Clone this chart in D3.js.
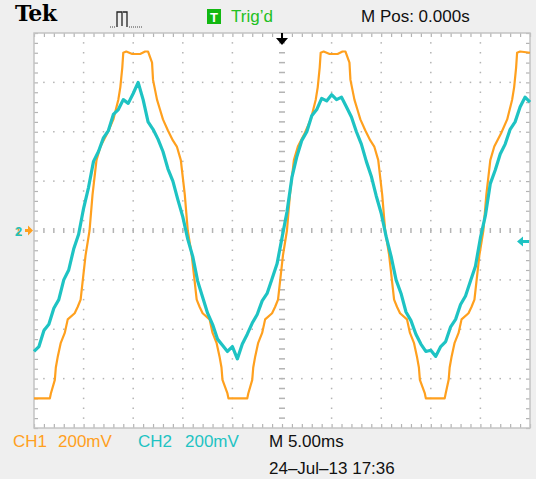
<!DOCTYPE html>
<html>
<head>
<meta charset="utf-8">
<script src="https://cdn.jsdelivr.net/npm/d3@7"></script>
<style>
  body { margin: 0; background: #efefef; }
  svg { display: block; }
  text { font-family: "Liberation Sans", Arial, sans-serif; }
</style>
</head>
<body>
<svg id="scope" width="536" height="479"></svg>
<script>
// time base: 5 ms/div, 10 div; vertical 200 mV/div, 8 div
var timeDomain = [-25, 25];
var voltDomain = [-800, 800];

// CH1 trace, [ms, mV] breakpoints
var ch1 = [
  [-25, -680], [-23.4, -680], [-23.3, -660], [-22.9, -605], [-22.8, -555], [-22.6, -510], [-22.3, -455],
  [-21.9, -415], [-21.6, -360], [-20.9, -335], [-20.6, -310], [-20.3, -280], [-19.8, -100], [-19.4, 0],
  [-19.1, 145], [-18.7, 285], [-18.3, 340], [-17.6, 395], [-17.0, 450], [-16.5, 530], [-16.3, 580],
  [-16.1, 660], [-16.0, 720], [-15.7, 725], [-15.1, 715], [-14.3, 715], [-13.8, 725], [-13.5, 725],
  [-13.1, 680], [-13.0, 610], [-12.6, 530], [-12.3, 490], [-12.0, 450], [-11.5, 405], [-11.0, 365],
  [-10.6, 340], [-10.2, 285], [-9.8, 145], [-9.5, 0], [-9.1, -100], [-8.6, -280], [-8.3, -310],
  [-8.0, -335], [-7.3, -360], [-7.0, -415], [-6.6, -455], [-6.3, -510], [-6.1, -555], [-6.0, -605],
  [-5.5, -660], [-5.4, -680], [-3.5, -680],
  [-3.4, -660], [-3.0, -605], [-2.9, -555], [-2.7, -510], [-2.4, -455], [-2.0, -415], [-1.7, -360],
  [-1.0, -335], [-0.7, -310], [-0.4, -280], [0.1, -100], [0.5, 0], [0.8, 145], [1.2, 285], [1.6, 340],
  [2.3, 395], [2.9, 450], [3.4, 530], [3.6, 580], [3.8, 660], [3.9, 720], [4.2, 725], [4.8, 715],
  [5.6, 715], [6.1, 725], [6.4, 725], [6.8, 680], [6.9, 610], [7.3, 530], [7.6, 490], [7.9, 450],
  [8.4, 405], [8.9, 365], [9.3, 340], [9.7, 285], [10.1, 145], [10.4, 0], [10.8, -100], [11.3, -280],
  [11.6, -310], [11.9, -335], [12.6, -360], [12.9, -415], [13.3, -455], [13.6, -510], [13.8, -555],
  [13.9, -605], [14.4, -660], [14.5, -680], [16.4, -680],
  [16.5, -660], [16.8, -605], [16.9, -555], [17.1, -510], [17.4, -455], [17.8, -415], [18.1, -360],
  [18.8, -335], [19.1, -310], [19.4, -280], [19.9, -100], [20.3, 0], [20.6, 145], [21.0, 285],
  [21.4, 340], [22.1, 395], [22.7, 450], [23.2, 530], [23.4, 580], [23.6, 660], [23.7, 720],
  [24.0, 725], [25, 720]
];

// CH2 trace, one sample every 0.5 ms from -25 ms (mV)
var ch2Start = -25, ch2Step = 0.5;
var ch2 = [
  -490, -470, -405, -380, -315, -280, -200, -160, -75, -15,
  90, 175, 280, 320, 375, 405, 470, 490, 530, 515,
  555, 600, 530, 440, 410, 370, 320, 250, 200, 125,
  55, -35, -105, -205, -270, -335, -380, -440, -465, -490,
  -470, -520, -460, -420, -375, -340, -285, -255, -195, -135,
  -30, 75, 215, 300, 365, 400, 465, 490, 535, 525,
  550, 530, 540, 500, 460, 400, 350, 280, 220, 140,
  70, -25, -105, -200, -255, -330, -365, -420, -460, -490,
  -485, -510, -470, -450, -390, -360, -300, -265, -205, -145,
  -30, 60, 190, 245, 310, 350, 410, 440, 500, 540,
  520
];

var ch1Label = ["CH1", "200mV"];
var ch2Label = ["CH2", "200mV"];
var timeLabel = "M 5.00ms";
var dateLabel = "24\u2013Jul\u201313 17:36";
var posLabel = "M Pos: 0.000s";
var trigLabel = "Trig\u2019d";
var trigLevel = -45; // mV, CH2 trigger level arrow

var orange = "#ffa01e", teal = "#1ec3c3";

var svg = d3.select("#scope");
var x = d3.scaleLinear().domain(timeDomain).range([34, 530]);
var y = d3.scaleLinear().domain(voltDomain).range([428, 33]);

// screen
svg.append("rect").attr("x", x(-25)).attr("y", y(800))
  .attr("width", x(25) - x(-25)).attr("height", y(-800) - y(800))
  .attr("fill", "#fff");

var xMajor = d3.range(-20, 21, 5);
var yMajor = d3.range(-600, 601, 200);
var xMinor = d3.range(-25, 25.01, 1);
var yMinor = d3.range(-800, 800.01, 40);

var grid = svg.append("g").attr("fill", "#b4b4b4");
// dotted division lines
xMajor.filter(function (d) { return d !== 0; }).forEach(function (t) {
  grid.selectAll(null).data(yMinor.slice(1, -1)).enter().append("rect")
    .attr("x", x(t) - 0.75).attr("y", function (v) { return y(v) - 0.75; })
    .attr("width", 1.5).attr("height", 1.5);
});
yMajor.filter(function (d) { return d !== 0; }).forEach(function (v) {
  grid.selectAll(null).data(xMinor.slice(1, -1)).enter().append("rect")
    .attr("x", function (t) { return x(t) - 0.75; }).attr("y", y(v) - 0.75)
    .attr("width", 1.5).attr("height", 1.5);
});
// center cross with small ticks
grid.selectAll(null).data(xMinor.slice(1, -1)).enter().append("rect")
  .attr("x", function (t) { return x(t) - 0.75; }).attr("y", y(0) - 2.5)
  .attr("width", 1.5).attr("height", 5);
grid.selectAll(null).data(yMinor.slice(1, -1)).enter().append("rect")
  .attr("x", x(0) - 3).attr("y", function (v) { return y(v) - 0.75; })
  .attr("width", 6).attr("height", 1.5);

// border ticks through axes
function borderAxis(axis, tr) {
  var g = svg.append("g").attr("transform", tr).call(axis);
  g.select(".domain").remove();
  g.selectAll("line").attr("stroke", "#b4b4b4").attr("stroke-width", 1.2);
}
borderAxis(d3.axisBottom(x).tickValues(xMinor).tickSize(4).tickFormat(""), "translate(0," + y(800) + ")");
borderAxis(d3.axisTop(x).tickValues(xMinor).tickSize(4).tickFormat(""), "translate(0," + y(-800) + ")");
borderAxis(d3.axisRight(y).tickValues(yMinor).tickSize(4).tickFormat(""), "translate(" + x(-25) + ",0)");
borderAxis(d3.axisLeft(y).tickValues(yMinor).tickSize(4).tickFormat(""), "translate(" + x(25) + ",0)");

svg.append("rect").attr("x", x(-25)).attr("y", y(800))
  .attr("width", x(25) - x(-25)).attr("height", y(-800) - y(800))
  .attr("fill", "none").attr("stroke", "#c4c4c4").attr("stroke-width", 1.5);

// traces
var line = d3.line().x(function (d) { return x(d[0]); }).y(function (d) { return y(d[1]); });
svg.append("path").datum(ch1).attr("d", line)
  .attr("fill", "none").attr("stroke", orange).attr("stroke-width", 2.2)
  .attr("stroke-linejoin", "round");
var ch2Points = ch2.map(function (v, i) { return [ch2Start + i * ch2Step, v]; });
svg.append("path").datum(ch2Points).attr("d", line)
  .attr("fill", "none").attr("stroke", teal).attr("stroke-width", 3.2)
  .attr("stroke-linejoin", "round");

// ground markers (both channels at 0 V)
svg.append("text").attr("x", 15).attr("y", y(0) + 5).attr("fill", orange)
  .attr("font-size", 13).attr("font-weight", "bold").text("1");
svg.append("text").attr("x", 15).attr("y", y(0) + 5).attr("fill", teal)
  .attr("font-size", 13).attr("font-weight", "bold").text("2");
svg.append("path")
  .attr("d", "M25," + (y(0) - 1.5) + "h3v-3.5l5,5l-5,5v-3.5h-3z")
  .attr("fill", orange);

// trigger level arrow (right)
var ty = y(trigLevel);
svg.append("path")
  .attr("d", "M517," + ty + "l6,-5v3.5h6v3h-6v3.5z")
  .attr("fill", teal);

// trigger position arrow (top)
svg.append("path")
  .attr("d", "M" + (x(0) - 1) + ",33h2v5h5l-6,7l-6,-7h5z")
  .attr("fill", "#000");

// header
svg.append("text").attr("x", 15).attr("y", 21)
  .style("font-family", "'DejaVu Serif', serif").attr("font-weight", "bold")
  .attr("font-size", 22).attr("letter-spacing", "-0.5").text("Tek");
svg.append("path")
  .attr("d", "M117,27V12H122V26M123,12H127V27")
  .attr("fill", "none").attr("stroke", "#222").attr("stroke-width", 1.3);
svg.append("path")
  .attr("d", "M110,27H116M129,27H143")
  .attr("fill", "none").attr("stroke", "#444").attr("stroke-width", 1)
  .attr("stroke-dasharray", "1,1");
svg.append("rect").attr("x", 207).attr("y", 9).attr("width", 14).attr("height", 15)
  .attr("fill", "#12b812");
svg.append("text").attr("x", 214).attr("y", 21.5).attr("text-anchor", "middle")
  .attr("fill", "#fff").attr("font-size", 13).attr("font-weight", "bold").text("T");
svg.append("text").attr("x", 231).attr("y", 22).attr("fill", "#22c022")
  .attr("font-size", 17).text(trigLabel);
svg.append("text").attr("x", 361).attr("y", 22).attr("fill", "#111")
  .attr("font-size", 17).text(posLabel);

// footer readouts
svg.append("text").attr("x", 13).attr("y", 447).attr("fill", orange).attr("font-size", 17).text(ch1Label[0]);
svg.append("text").attr("x", 58).attr("y", 447).attr("fill", orange).attr("font-size", 17).text(ch1Label[1]);
svg.append("text").attr("x", 138).attr("y", 447).attr("fill", teal).attr("font-size", 17).text(ch2Label[0]);
svg.append("text").attr("x", 185).attr("y", 447).attr("fill", teal).attr("font-size", 17).text(ch2Label[1]);
svg.append("text").attr("x", 269).attr("y", 447).attr("fill", "#111").attr("font-size", 17).text(timeLabel);
svg.append("text").attr("x", 269).attr("y", 474).attr("fill", "#111").attr("font-size", 17).text(dateLabel);
</script>
</body>
</html>
